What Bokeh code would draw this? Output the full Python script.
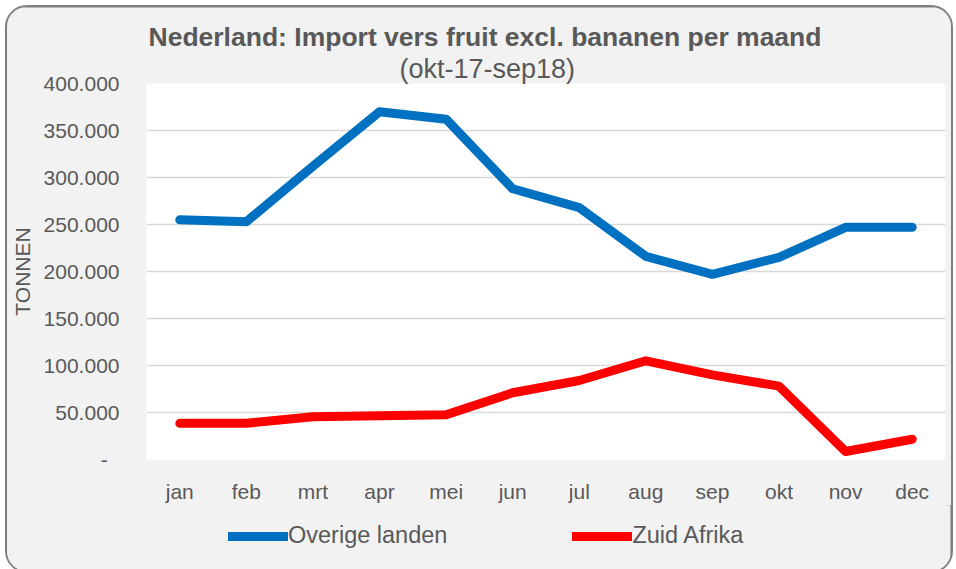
from bokeh.plotting import figure
from bokeh.layouts import column
from bokeh.models import (ColumnDataSource, Legend, LegendItem, Title,
                          CustomJSTickFormatter, FixedTicker, Range1d)
from bokeh.embed import file_html
from bokeh.resources import INLINE

months = ["jan", "feb", "mrt", "apr", "mei", "jun", "jul", "aug", "sep", "okt", "nov", "dec"]
overige_landen = [255000, 253000, 312000, 370000, 362000, 288000, 268000, 216000, 197000, 215000, 247000, 247000]
zuid_afrika = [38500, 38500, 45500, 46500, 47500, 71000, 84000, 105000, 90000, 78000, 8500, 21500]
y_ticks = [0, 50000, 100000, 150000, 200000, 250000, 300000, 350000, 400000]
series_names = ["Overige landen", "Zuid Afrika"]

TXT = "#595959"
FONT = "Liberation Sans"
BG = "#f2f2f2"
BLUE = "#0070C0"
RED = "#FF0000"

src = ColumnDataSource(dict(m=months, a=overige_landen, b=zuid_afrika))

p = figure(x_range=months, y_range=Range1d(0, 400000),
           frame_width=799, frame_height=376,
           output_backend="svg", toolbar_location=None,
           min_border_left=138, min_border_right=6, min_border_top=76, min_border_bottom=40,
           background_fill_color="white", border_fill_color=BG,
           outline_line_color=None)

sub = Title(text="(okt-17-sep18)", align="left", offset=253,
            text_font=FONT, text_font_size="27px", text_font_style="normal",
            text_color=TXT, standoff=0)
main = Title(text="Nederland: Import vers fruit excl. bananen per maand", align="left",
             offset=2, text_font=FONT, text_font_size="26.5px", text_font_style="bold",
             text_color=TXT, standoff=0)
p.add_layout(sub, "above")
p.add_layout(main, "above")

p.line("m", "a", source=src, line_color=BLUE, line_width=9,
       line_join="round", line_cap="round")
p.line("m", "b", source=src, line_color=RED, line_width=9,
       line_join="round", line_cap="round")

p.xgrid.grid_line_color = None
p.ygrid.grid_line_color = "#d9d9d9"
p.ygrid.grid_line_width = 1.5

p.yaxis.ticker = FixedTicker(ticks=y_ticks)
p.yaxis.formatter = CustomJSTickFormatter(code="""
    if (tick == 0) { return "-\\u00a0\\u00a0"; }
    return Math.round(tick).toString().replace(/\\B(?=(\\d{3})+(?!\\d))/g, ".");
""")
p.yaxis.axis_label = "TONNEN"
p.yaxis.axis_label_text_font = FONT
p.yaxis.axis_label_text_font_size = "21px"
p.yaxis.axis_label_text_font_style = "normal"
p.yaxis.axis_label_text_color = TXT
p.yaxis.axis_label_standoff = 7
p.yaxis.major_label_standoff = 21

for ax in (p.xaxis[0], p.yaxis[0]):
    ax.axis_line_color = None
    ax.major_tick_line_color = None
    ax.minor_tick_line_color = None
    ax.major_label_text_font = FONT
    ax.major_label_text_font_size = "21px"
    ax.major_label_text_color = TXT
p.xaxis.major_label_standoff = 14

# legend strip below the chart (series drawn outside its visible range)
leg = figure(x_range=months, y_range=Range1d(-2, -1),
             width=943, height=66, output_backend="svg", toolbar_location=None,
             x_axis_location=None, y_axis_location=None,
             min_border_left=0, min_border_right=0, min_border_top=0, min_border_bottom=0,
             background_fill_color=BG, border_fill_color=BG, outline_line_color=None)
leg.grid.visible = False
l1 = leg.line("m", "a", source=src, line_color=BLUE, line_width=9, line_cap="round")
l2 = leg.line("m", "b", source=src, line_color=RED, line_width=9, line_cap="round")
legend = Legend(items=[LegendItem(label=series_names[0], renderers=[l1]),
                       LegendItem(label=series_names[1], renderers=[l2])],
                orientation="horizontal", location=(82, 22),
                glyph_width=60, glyph_height=24, label_standoff=0, spacing=125,
                padding=0, margin=0, border_line_color=None,
                background_fill_alpha=0,
                label_text_font=FONT, label_text_font_size="23.5px",
                label_text_color=TXT)
leg.add_layout(legend, "center")

layout = column(p, leg, spacing=0,
                styles={"border": "2px solid #808080", "border-radius": "22px",
                        "overflow": "hidden", "margin-left": "5px", "margin-top": "5px",
                        "background-color": BG,
                        "box-shadow": "inset -3px 4px 4px rgba(0,0,0,0.35)"})

open("out.html", "w").write(file_html(layout, INLINE))
